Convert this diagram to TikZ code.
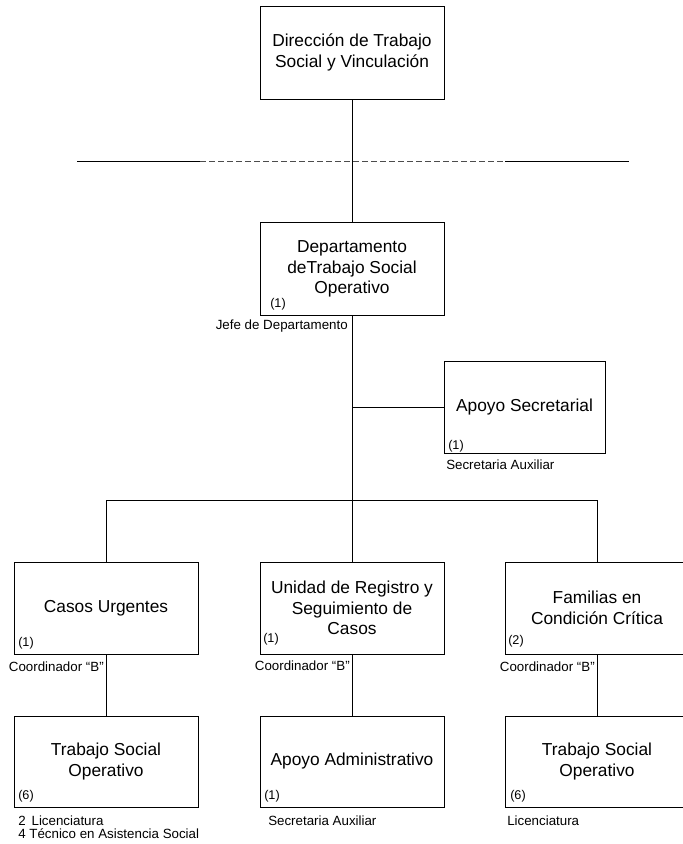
\documentclass[tikz,border=0pt]{standalone}
\usepackage{fontspec}
\setmainfont{Liberation Sans}
\begin{document}
\begin{tikzpicture}[x=0.75pt,y=-0.75pt,
  unitbox/.style={draw, line width=0.65pt, minimum width=138pt, minimum height=69.75pt,
    inner sep=0pt, align=center, font=\fontsize{13}{15.5}\selectfont},
  count/.style={inner sep=0pt, anchor=west, font=\fontsize{9.5}{11}\selectfont},
  post/.style={inner sep=0pt, font=\fontsize{10}{12}\selectfont},
  link/.style={line width=0.65pt}]
\useasboundingbox (0,0) rectangle (683,844);
\clip (0,0) rectangle (683,844);

% units
\node[unitbox] (dir) at (352,52.5) {Dirección de Trabajo\\Social y Vinculación};
\node[unitbox] (dep) at (352,269) {Departamento\\deTrabajo Social\\Operativo};
\node[unitbox, minimum width=120.75pt, minimum height=69pt] (sec) at (524.5,407) {Apoyo Secretarial};
\node[unitbox, minimum height=69pt] (cas) at (106,608) {Casos Urgentes};
\node[unitbox, minimum height=69pt] (uni) at (352,608) {Unidad de Registro y\\Seguimiento de\\Casos};
\node[unitbox, minimum height=69pt] (fam) at (597,608) {Familias en\\Condición Crítica};
\node[unitbox, minimum height=68.25pt] (tsl) at (106,761.5) {Trabajo Social\\Operativo};
\node[unitbox, minimum height=68.25pt] (adm) at (352,761.5) {Apoyo Administrativo};
\node[unitbox, minimum height=68.25pt] (tsr) at (597,761.5) {Trabajo Social\\Operativo};

% staff counts
\node[count] (ndep) at (270,304) {(1)};
\node[count] (nsec) at (448,446) {(1)};
\node[count] (ncas) at (18,643) {(1)};
\node[count] (nuni) at (263,639) {(1)};
\node[count] (nfam) at (508,641) {(2)};
\node[count] (ntsl) at (18,796) {(6)};
\node[count] (nadm) at (264,796) {(1)};
\node[count] (ntsr) at (510,796) {(6)};

% positions
\node[post, anchor=east] (pdep) at (348,326) {Jefe de Departamento};
\node[post, anchor=west] (psec) at (446,465) {Secretaria Auxiliar};
\node[post, anchor=east] (pcas) at (104,667) {Coordinador “B”};
\node[post, anchor=east] (puni) at (350,666) {Coordinador “B”};
\node[post, anchor=east] (pfam) at (595,667) {Coordinador “B”};
\node[post, anchor=west] (ptsl1) at (18,821) {2\, Licenciatura};
\node[post, anchor=west] (ptsl2) at (18,834) {4 Técnico en Asistencia Social};
\node[post, anchor=west] (padm) at (268,821) {Secretaria Auxiliar};
\node[post, anchor=west] (ptsr) at (507,821) {Licenciatura};

% level separator
\coordinate (s1) at (77,161);
\coordinate (s2) at (200,161);
\coordinate (s3) at (505,161);
\coordinate (s4) at (629,161);
\draw[link] (s1) -- (s2);
\draw[link, black!70, dash pattern=on 4.5pt off 2.25pt] (s2) -- (s3);
\draw[link] (s3) -- (s4);

% connectors
\coordinate (bar) at (352,500);
\draw[link] (dir.south) -- (dep.north);
\draw[link] (dep.south) -- (uni.north);
\draw[link] (dep.south |- sec.west) -- (sec.west);
\draw[link] (cas.north) -- (cas.north |- bar) -- (fam.north |- bar) -- (fam.north);
\draw[link] (cas.south) -- (tsl.north);
\draw[link] (uni.south) -- (adm.north);
\draw[link] (fam.south) -- (tsr.north);
\end{tikzpicture}
\end{document}
